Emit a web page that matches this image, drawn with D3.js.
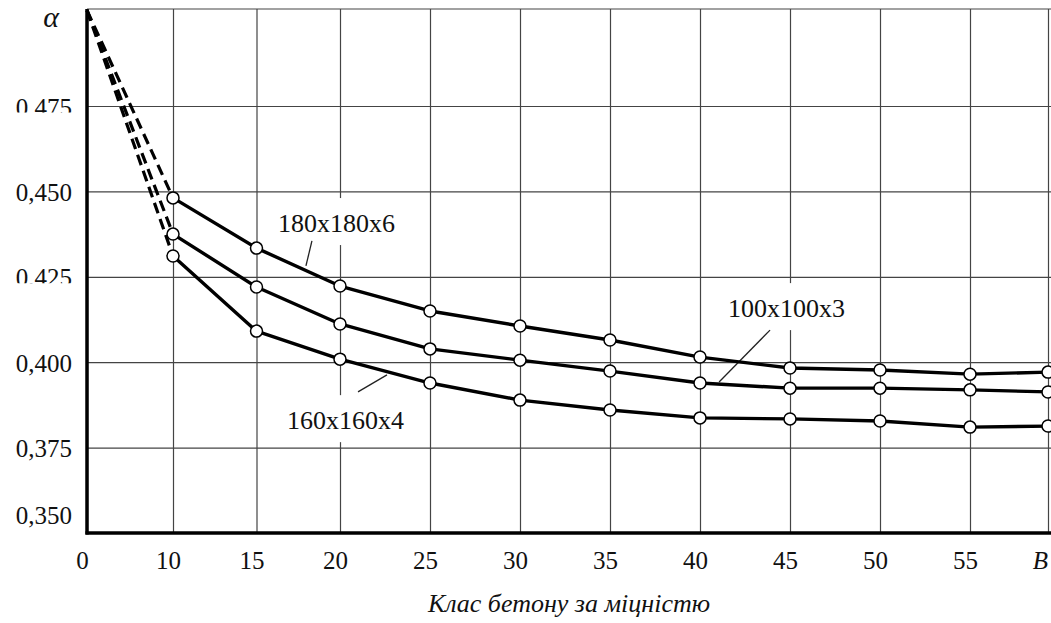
<!DOCTYPE html>
<html>
<head>
<meta charset="utf-8">
<script src="https://cdn.jsdelivr.net/npm/d3@7"></script>
<style>
  body { margin: 0; background: #fff; }
  svg { display: block; font-family: 'Liberation Serif', 'Times New Roman', serif; }
</style>
</head>
<body>
<script>
// concrete strength classes (60 is shown as "B" at the end of the axis)
const classes = [10, 15, 20, 25, 30, 35, 40, 45, 50, 55, 60];

const alpha180 = [0.4481, 0.4334, 0.4223, 0.415, 0.4106, 0.4065, 0.4015, 0.3983, 0.3977, 0.3965, 0.3971];
const alpha100 = [0.4375, 0.422, 0.4112, 0.4039, 0.4006, 0.3974, 0.3939, 0.3924, 0.3924, 0.3919, 0.3913];
const alpha160 = [0.4311, 0.4091, 0.4009, 0.3939, 0.3889, 0.386, 0.3837, 0.3834, 0.3828, 0.381, 0.3813];

// dashed extrapolation towards class 0
const alphaAtZero = 0.503;

const seriesNames = ['180x180x6', '100x100x3', '160x160x4'];

const xTicks = [0, 10, 15, 20, 25, 30, 35, 40, 45, 50, 55, 60];
const xTickLabels = ['0', '10', '15', '20', '25', '30', '35', '40', '45', '50', '55', 'B'];
const yTicks = [0.35, 0.375, 0.4, 0.425, 0.45, 0.475];
const yTickLabels = ['0,350', '0,375', '0,400', '0,425', '0,450', '0.475'];
const yTop = 0.5034;

// label anchors and leader lines, in data units
const labelAnchors = [[16.29, 0.4381], [41.56, 0.4132], [16.83, 0.3804]];
const leaders = [
  [[18.32, 0.4355], [17.96, 0.4282]],
  [[43.89, 0.4094], [41.06, 0.3942]],
  [[21.0, 0.3913], [22.61, 0.3963]],
];

const w = 1051;
const h = 623;
const serif = "'Liberation Serif', 'Times New Roman', serif";

const svg = d3.select('body').append('svg').attr('width', w).attr('height', h);
svg.append('rect').attr('width', w).attr('height', h).attr('fill', '#fff');

// the hand drawn axis is not quite uniform, so the scale has a few knots
const x = d3.scaleLinear().domain([0, 10, 20, 55, 60]).range([87, 173, 340, 970, 1048]);
const y = d3.scaleLinear().domain([0.35, 0.475]).range([533, 106]);

const gridColor = '#444';

// horizontal grid + y labels
const yAxis = d3
  .axisLeft(y)
  .tickValues(yTicks)
  .tickFormat((d, i) => yTickLabels[i])
  .tickSize(-(w - x(0)))
  .tickPadding(15);

const gy = svg
  .append('g')
  .attr('transform', `translate(${x(0)},0)`)
  .call(yAxis)
  .attr('font-family', serif);
gy.select('.domain').remove();
gy.selectAll('line').attr('stroke', gridColor).attr('stroke-width', 1.2);

svg
  .append('defs')
  .append('clipPath')
  .attr('id', 'cut')
  .append('rect')
  .attr('x', -120)
  .attr('y', -40)
  .attr('width', 120)
  .attr('height', 46);

gy.selectAll('text')
  .attr('font-size', 25)
  .attr('fill', '#111')
  .attr('dy', '0.36em')
  .attr('transform', (d) => (d === 0.35 ? 'translate(0,-19)' : null))
  .attr('clip-path', (d) => (d === 0.475 || d === 0.425 ? 'url(#cut)' : null));

// vertical grid + x labels
const xAxis = d3
  .axisBottom(x)
  .tickValues(xTicks)
  .tickFormat((d, i) => xTickLabels[i])
  .tickSize(-(y(0.35) - y(yTop)))
  .tickPadding(36);

const gx = svg
  .append('g')
  .attr('transform', `translate(0,${y(0.35)})`)
  .call(xAxis)
  .attr('font-family', serif);
gx.select('.domain').remove();
gx.selectAll('line').attr('stroke', gridColor).attr('stroke-width', 1.2);
gx.selectAll('text')
  .attr('font-size', 25)
  .attr('fill', '#111')
  .attr('dy', 0)
  .attr('x', (d) => (d === 60 ? -8 : -5))
  .style('font-style', (d) => (d === 60 ? 'italic' : null));

// top border
svg
  .append('line')
  .attr('x1', x(0))
  .attr('x2', w)
  .attr('y1', y(yTop))
  .attr('y2', y(yTop))
  .attr('stroke', gridColor)
  .attr('stroke-width', 1.2);

// series labels with white boxes over the grid
seriesNames.forEach((name, i) => {
  const g = svg.append('g');
  const box = g.append('rect').attr('fill', '#fff');
  const t = g
    .append('text')
    .attr('x', x(labelAnchors[i][0]))
    .attr('y', y(labelAnchors[i][1]))
    .attr('font-size', 26)
    .attr('fill', '#111')
    .text(name);
  const b = t.node().getBBox();
  box
    .attr('x', b.x - 8)
    .attr('y', b.y - 11)
    .attr('width', b.width + 16)
    .attr('height', b.height + 18);

  g.append('line')
    .attr('x1', x(leaders[i][0][0]))
    .attr('y1', y(leaders[i][0][1]))
    .attr('x2', x(leaders[i][1][0]))
    .attr('y2', y(leaders[i][1][1]))
    .attr('stroke', '#222')
    .attr('stroke-width', 1.3);
});

// axes
svg
  .append('line')
  .attr('x1', x(0))
  .attr('x2', x(0))
  .attr('y1', y(yTop))
  .attr('y2', y(0.35) + 1.5)
  .attr('stroke', '#000')
  .attr('stroke-width', 3.5);

svg
  .append('line')
  .attr('x1', x(0) - 1.5)
  .attr('x2', w)
  .attr('y1', y(0.35))
  .attr('y2', y(0.35))
  .attr('stroke', '#000')
  .attr('stroke-width', 3.5);

const series = [alpha180, alpha100, alpha160].map((vals) => classes.map((c, i) => [c, vals[i]]));

const line = d3
  .line()
  .x((d) => x(d[0]))
  .y((d) => y(d[1]));

// dashed extrapolation
svg
  .selectAll('.dash')
  .data(series)
  .enter()
  .append('path')
  .attr('class', 'dash')
  .attr('d', (s) => line([[0, alphaAtZero], s[0]]))
  .attr('fill', 'none')
  .attr('stroke', '#000')
  .attr('stroke-width', 3.2)
  .attr('stroke-dasharray', '11,6');

svg
  .selectAll('.curve')
  .data(series)
  .enter()
  .append('path')
  .attr('class', 'curve')
  .attr('d', line)
  .attr('fill', 'none')
  .attr('stroke', '#000')
  .attr('stroke-width', 3.4)
  .attr('stroke-linejoin', 'round');

svg
  .selectAll('.pt')
  .data(series.flat())
  .enter()
  .append('circle')
  .attr('class', 'pt')
  .attr('cx', (d) => x(d[0]))
  .attr('cy', (d) => y(d[1]))
  .attr('r', 6)
  .attr('fill', '#fff')
  .attr('stroke', '#000')
  .attr('stroke-width', 1.5);

// alpha symbol and axis title
svg
  .append('text')
  .attr('x', 51)
  .attr('y', 27)
  .attr('text-anchor', 'middle')
  .attr('font-size', 30)
  .style('font-style', 'italic')
  .attr('fill', '#111')
  .text('α');

svg
  .append('text')
  .attr('x', 569)
  .attr('y', 612)
  .attr('text-anchor', 'middle')
  .attr('font-size', 26)
  .style('font-style', 'italic')
  .attr('fill', '#111')
  .text('Клас бетону за міцністю');
</script>
</body>
</html>
